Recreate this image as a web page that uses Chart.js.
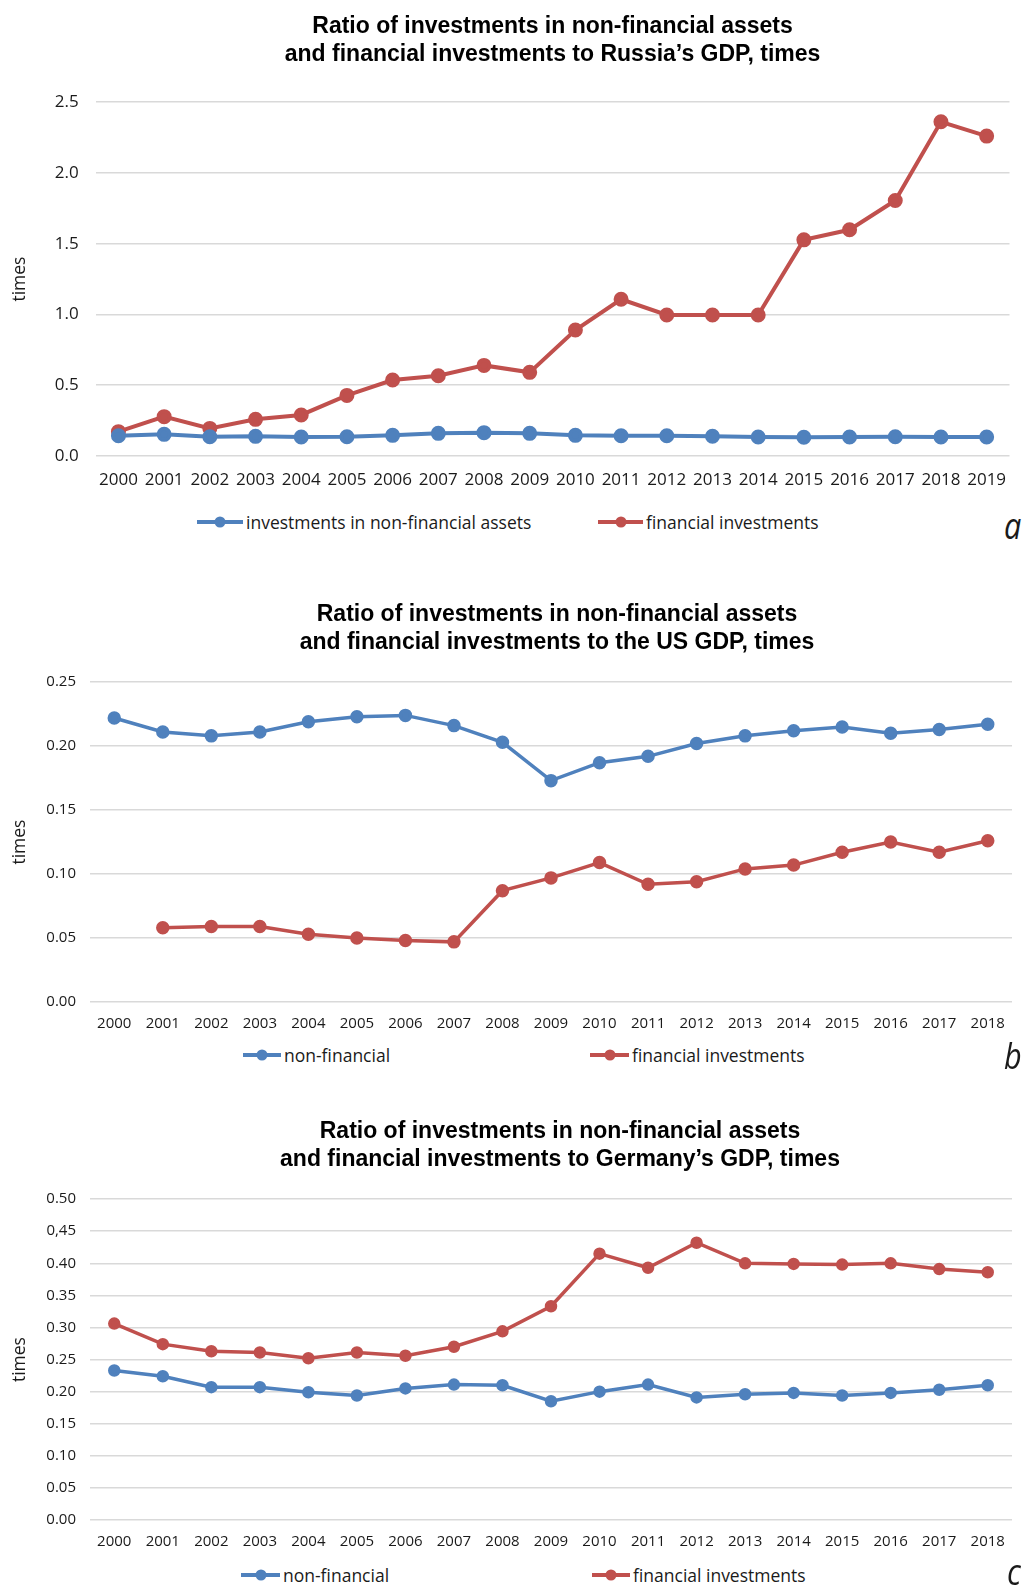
<!DOCTYPE html>
<html>
<head>
<meta charset="utf-8">
<title>Investments to GDP: Russia, US, Germany</title>
<script src="https://cdn.jsdelivr.net/npm/chart.js@4.4.1/dist/chart.umd.min.js"></script>
<style>
  body { margin: 0; background: #fff; }
  #page { position: relative; width: 1029px; height: 1587px; overflow: hidden; font-family: "Open Sans", sans-serif; color: #1a1a1a; }
  #page canvas { position: absolute; left: 0; }
  .key { position: absolute; display: flex; align-items: center; white-space: nowrap; font-size: 17.5px; height: 24px; }
  .key .ln { position: relative; height: 4px; margin-right: 3px; }
  .key .ln::after { content: ''; position: absolute; left: 50%; top: 50%; width: 11px; height: 11px; border-radius: 50%; background: inherit; transform: translate(-50%, -50%); }
  .tag { position: absolute; font-style: italic; font-size: 36px; line-height: 1; transform: scaleX(0.85); transform-origin: left top; }
</style>
</head>
<body>
<div id="page">
  <canvas id="ru" width="1029" height="490" style="top:0"></canvas>
  <canvas id="us" width="1029" height="456" style="top:580px"></canvas>
  <canvas id="de" width="1029" height="464" style="top:1090px"></canvas>
</div>
<script>
// Russia
const ruYears = ['2000','2001','2002','2003','2004','2005','2006','2007','2008','2009','2010','2011','2012','2013','2014','2015','2016','2017','2018','2019'];
const ruNonFin = [0.143,0.153,0.136,0.139,0.134,0.136,0.146,0.160,0.165,0.160,0.146,0.143,0.143,0.140,0.134,0.132,0.134,0.136,0.134,0.134];
const ruFin = [0.172,0.278,0.195,0.259,0.290,0.428,0.537,0.567,0.640,0.591,0.890,1.107,0.996,0.996,0.996,1.527,1.598,1.805,2.361,2.260];
const ruTicks = ['0.0','0.5','1.0','1.5','2.0','2.5'];

// USA (no financial figure for 2000)
const usYears = ['2000','2001','2002','2003','2004','2005','2006','2007','2008','2009','2010','2011','2012','2013','2014','2015','2016','2017','2018'];
const usNonFin = [0.222,0.211,0.208,0.211,0.219,0.223,0.224,0.216,0.203,0.173,0.187,0.192,0.202,0.208,0.212,0.215,0.210,0.213,0.217];
const usFin = [null,0.058,0.059,0.059,0.053,0.050,0.048,0.047,0.087,0.097,0.109,0.092,0.094,0.104,0.107,0.117,0.125,0.117,0.126];
const usTicks = ['0.00','0.05','0.10','0.15','0.20','0.25'];

// Germany
const deYears = ['2000','2001','2002','2003','2004','2005','2006','2007','2008','2009','2010','2011','2012','2013','2014','2015','2016','2017','2018'];
const deNonFin = [0.233,0.224,0.207,0.207,0.199,0.194,0.205,0.211,0.210,0.185,0.200,0.211,0.191,0.196,0.198,0.194,0.198,0.203,0.210];
const deFin = [0.306,0.274,0.263,0.261,0.252,0.261,0.256,0.270,0.294,0.333,0.415,0.393,0.432,0.400,0.399,0.398,0.400,0.391,0.386];
const deTicks = ['0.00','0.05','0.10','0.15','0.20','0.25','0.30','0.35','0.40','0,45','0.50'];

const BLUE = '#4f81bd';
const RED = '#c0504d';
const TICK = '#1a1a1a';
const GRID = '#d9d9d9';

// nudges the title block sideways after layout (title is centred on the plot area otherwise)
const titleShift = {
  id: 'titleShift',
  afterLayout(chart, args, opts) {
    const t = chart.titleBlock;
    if (t && opts.dx) { t.left += opts.dx; t.right += opts.dx; }
  }
};

// one helper for all three panels, the numbers in "box" just place the plot area
function lineChart(id, box) {
  const mk = (label, data, color) => ({
    label, data,
    borderColor: color, backgroundColor: color,
    borderWidth: box.lw, pointRadius: box.pr, pointHoverRadius: box.pr,
    tension: 0, spanGaps: false
  });
  return new Chart(document.getElementById(id), {
    type: 'line',
    data: {
      labels: box.labels,
      datasets: [mk(box.names[0], box.blue, BLUE), mk(box.names[1], box.red, RED)]
    },
    plugins: [titleShift],
    options: {
      responsive: false,
      animation: false,
      layout: { padding: { left: 0, right: box.right, top: 0, bottom: 0 } },
      plugins: {
        legend: { display: false },
        tooltip: { enabled: false },
        titleShift: { dx: box.dx },
        title: {
          display: true,
          fullSize: false,
          text: box.title,
          color: '#000',
          font: { family: 'Liberation Sans', size: 23, weight: 'bold', lineHeight: 1.22 },
          padding: { top: box.titleTop, bottom: box.titleBottom }
        }
      },
      scales: {
        x: {
          offset: true,
          grid: { display: false },
          border: { display: false },
          ticks: { color: TICK, font: { family: 'Open Sans', size: box.fs }, padding: box.xpad, maxRotation: 0, autoSkip: false },
          afterFit: s => { s.height = 34; }
        },
        y: {
          min: 0, max: box.max,
          grid: { color: GRID, lineWidth: 1.5, drawTicks: false },
          border: { display: false },
          ticks: {
            stepSize: box.step, color: TICK, padding: box.ypad,
            font: { family: 'Open Sans', size: box.fs },
            callback: (v, i) => box.ticks[i]
          },
          title: { display: true, text: 'times', color: TICK, font: { family: 'Open Sans', size: 17.5 }, padding: { top: 10, bottom: 0 } },
          afterFit: s => { s.width = box.left; }
        }
      }
    }
  });
}

const charts = [
  lineChart('ru', {
    labels: ruYears, blue: ruNonFin, red: ruFin, ticks: ruTicks, max: 2.5, step: 0.5,
    names: ['investments in non-financial assets', 'financial investments'],
    title: ['Ratio of investments in non-financial assets', 'and financial investments to Russia\u2019s GDP, times'],
    titleTop: 12.7, titleBottom: 33.3, dx: 0, left: 95.6, right: 19.5, fs: 17, xpad: 6, ypad: 17, lw: 4, pr: 5.5
  }),
  lineChart('us', {
    labels: usYears, blue: usNonFin, red: usFin, ticks: usTicks, max: 0.25, step: 0.05,
    names: ['non-financial', 'financial investments'],
    title: ['Ratio of investments in non-financial assets', 'and financial investments to the US GDP, times'],
    titleTop: 21, titleBottom: 25, dx: 6, left: 90, right: 17, fs: 15, xpad: 5, ypad: 14, lw: 3.5, pr: 5
  }),
  lineChart('de', {
    labels: deYears, blue: deNonFin, red: deFin, ticks: deTicks, max: 0.5, step: 0.05,
    names: ['non-financial', 'financial investments'],
    title: ['Ratio of investments in non-financial assets', 'and financial investments to Germany\u2019s GDP, times'],
    titleTop: 28, titleBottom: 25, dx: 9, left: 90, right: 17, fs: 15, xpad: 5, ypad: 14, lw: 3.5, pr: 4.5
  })
];

// legends under each panel: line with a dot in the middle, then the series name
const page = document.getElementById('page');
function addKey(chart, idx, x, y, len) {
  const ds = chart.data.datasets[idx];
  const el = document.createElement('div');
  el.className = 'key';
  el.style.left = x + 'px';
  el.style.top = (y - 12) + 'px';
  el.innerHTML = '<span class="ln" style="width:' + len + 'px;background:' + ds.borderColor + '"></span>' + ds.label;
  page.appendChild(el);
}
addKey(charts[0], 0, 197, 522, 46);
addKey(charts[0], 1, 598, 522, 45);
addKey(charts[1], 0, 243, 1055, 38);
addKey(charts[1], 1, 590, 1055, 39);
addKey(charts[2], 0, 241, 1575, 39);
addKey(charts[2], 1, 592, 1575, 38);

// panel letters
[['a', 1004, 508], ['b', 1004, 1038], ['c', 1007, 1554]].forEach(([t, x, y]) => {
  const el = document.createElement('div');
  el.className = 'tag';
  el.textContent = t;
  el.style.left = x + 'px';
  el.style.top = y + 'px';
  page.appendChild(el);
});
</script>
</body>
</html>
